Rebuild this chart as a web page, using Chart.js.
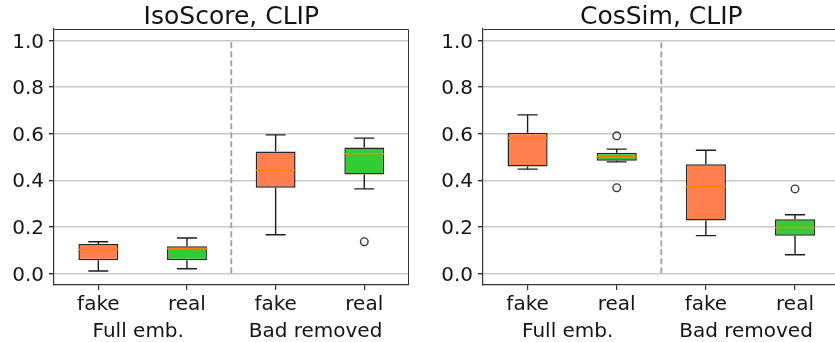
<!DOCTYPE html>
<html>
<head>
<meta charset="utf-8">
<script src="https://cdn.jsdelivr.net/npm/chart.js@4"></script>
<style>
  html, body { margin: 0; padding: 0; background: #fff; width: 835px; height: 342px; overflow: hidden; }
  canvas { position: absolute; top: 0; }
  #isoChart { left: 0; }
  #cosChart { left: 429px; }
</style>
</head>
<body>
<canvas id="isoChart" width="414" height="342"></canvas>
<canvas id="cosChart" width="416" height="342"></canvas>
<script>
const categories = ['fake', 'real', 'fake', 'real'];
const groups = ['Full emb.', 'Bad removed'];
const yTicks = [0, 0.2, 0.4, 0.6, 0.8, 1.0];

// IsoScore, CLIP
const isoLow = [0.010, 0.020, 0.166, 0.363];
const isoQ1 = [0.056, 0.056, 0.368, 0.425];
const isoMedian = [0.103, 0.107, 0.443, 0.514];
const isoQ3 = [0.126, 0.116, 0.524, 0.541];
const isoHigh = [0.136, 0.152, 0.595, 0.581];
const isoOutliers = [[], [], [], [0.136]];

// CosSim, CLIP
const cosLow = [0.448, 0.479, 0.162, 0.080];
const cosQ1 = [0.459, 0.484, 0.227, 0.162];
const cosMedian = [0.582, 0.501, 0.373, 0.197];
const cosQ3 = [0.604, 0.518, 0.469, 0.232];
const cosHigh = [0.681, 0.534, 0.529, 0.252];
const cosOutliers = [[], [0.591, 0.368], [], [0.363]];

const FONT = 'DejaVu Sans';
const TEXT = '#141414';
const boxColors = ['#ff7f50', '#32cd32', '#ff7f50', '#32cd32'];
const positions = categories.map((c, i) => i + 1);
const boxWidth = 0.45;

// frame on all four sides + title centred over the axes
const framePlugin = {
    id: 'frame',
    afterDraw(chart, args, opts) {
        const { ctx, chartArea: a } = chart;
        ctx.save();
        ctx.strokeStyle = '#333';
        ctx.lineWidth = 1;
        ctx.beginPath();
        ctx.moveTo(Math.round(a.left) + 0.5, Math.round(a.top) + 0.5);
        ctx.lineTo(Math.round(a.right) - 0.5, Math.round(a.top) + 0.5);
        ctx.lineTo(Math.round(a.right) - 0.5, Math.round(a.bottom));
        ctx.stroke();
        ctx.fillStyle = TEXT;
        ctx.font = '25px "' + FONT + '"';
        ctx.textAlign = 'center';
        ctx.textBaseline = 'alphabetic';
        ctx.fillText(opts.text, (a.left + a.right) / 2, 24);
        ctx.restore();
    }
};

function makeBoxPlot(canvasId, title, low, q1, med, q3, high, outliers, padRight) {
    const whiskers = [];
    const medians = [];
    const fliers = [];
    positions.forEach((p, i) => {
        whiskers.push({ x: p, y: q1[i] }, { x: p, y: low[i] }, { x: p, y: null });
        whiskers.push({ x: p - boxWidth / 4, y: low[i] }, { x: p + boxWidth / 4, y: low[i] }, { x: p, y: null });
        whiskers.push({ x: p, y: q3[i] }, { x: p, y: high[i] }, { x: p, y: null });
        whiskers.push({ x: p - boxWidth / 4, y: high[i] }, { x: p + boxWidth / 4, y: high[i] }, { x: p, y: null });
        medians.push({ x: p - boxWidth / 2, y: med[i] }, { x: p + boxWidth / 2, y: med[i] }, { x: p, y: null });
        outliers[i].forEach(v => fliers.push({ x: p, y: v }));
    });

    const ctx = document.getElementById(canvasId).getContext('2d');
    new Chart(ctx, {
        type: 'bar',
        data: {
            datasets: [
                {
                    type: 'bar',
                    data: positions.map((p, i) => ({ x: p, y: [q1[i], q3[i]] })),
                    backgroundColor: boxColors,
                    borderColor: '#262626',
                    borderWidth: 1.5,
                    borderSkipped: false,
                    categoryPercentage: 1,
                    barPercentage: boxWidth,
                    order: 3
                },
                {
                    type: 'line',
                    data: whiskers,
                    borderColor: '#1e1e1e',
                    borderWidth: 1.4,
                    pointRadius: 0,
                    spanGaps: false,
                    order: 4
                },
                {
                    type: 'line',
                    data: medians,
                    borderColor: '#ff7f0e',
                    borderWidth: 1.5,
                    pointRadius: 0,
                    spanGaps: false,
                    order: 1
                },
                {
                    type: 'line',
                    data: fliers,
                    showLine: false,
                    pointRadius: 3.8,
                    pointBackgroundColor: 'rgba(0,0,0,0)',
                    pointBorderColor: '#3a3a3a',
                    pointBorderWidth: 1.4,
                    order: 0
                },
                {
                    type: 'line',
                    data: [{ x: 2.5, y: 0 }, { x: 2.5, y: 1 }],
                    borderColor: '#a0a0a0',
                    borderWidth: 1.8,
                    borderDash: [6, 3],
                    pointRadius: 0,
                    order: 5
                }
            ]
        },
        options: {
            responsive: false,
            animation: false,
            events: [],
            layout: { padding: { top: 29, right: padRight, left: 0, bottom: 0 } },
            plugins: {
                legend: { display: false },
                tooltip: { enabled: false },
                frame: { text: title }
            },
            scales: {
                x: {
                    type: 'linear', min: 0.5, max: 4.5, offset: false, weight: 0,
                    afterBuildTicks: s => { s.ticks = positions.map(v => ({ value: v })); },
                    afterFit: s => { s.height = 27; },
                    grid: { drawOnChartArea: false, offset: false, tickLength: 5, tickColor: '#333', lineWidth: 1.2 },
                    border: { color: '#333', width: 1.2 },
                    ticks: {
                        callback: (v, i) => categories[i],
                        font: { size: 20, family: FONT }, color: TEXT,
                        padding: 3, maxRotation: 0, autoSkip: false
                    }
                },
                x2: {
                    type: 'linear', position: 'bottom', min: 0.5, max: 4.5, offset: false, weight: 1,
                    afterBuildTicks: s => { s.ticks = [1.45, 3.45].map(v => ({ value: v })); },
                    afterFit: s => { s.height = 30; },
                    grid: { display: false },
                    border: { display: false },
                    ticks: {
                        callback: (v, i) => groups[i],
                        font: { size: 20, family: FONT }, color: TEXT,
                        padding: 0, maxRotation: 0, autoSkip: false
                    }
                },
                y: {
                    min: -0.05, max: 1.05,
                    afterBuildTicks: s => { s.ticks = yTicks.map(v => ({ value: v })); },
                    afterFit: s => { s.width = 54; },
                    grid: { color: '#c8c8c8', lineWidth: 1.4, tickLength: 5, tickColor: '#333' },
                    border: { color: '#333', width: 1.2 },
                    ticks: {
                        callback: v => v.toFixed(1),
                        font: { size: 20, family: FONT }, color: TEXT,
                        padding: 5, labelOffset: 2
                    }
                }
            }
        },
        plugins: [framePlugin]
    });
}

makeBoxPlot('isoChart', 'IsoScore, CLIP', isoLow, isoQ1, isoMedian, isoQ3, isoHigh, isoOutliers, 2);
makeBoxPlot('cosChart', 'CosSim, CLIP', cosLow, cosQ1, cosMedian, cosQ3, cosHigh, cosOutliers, 3);
</script>
</body>
</html>
